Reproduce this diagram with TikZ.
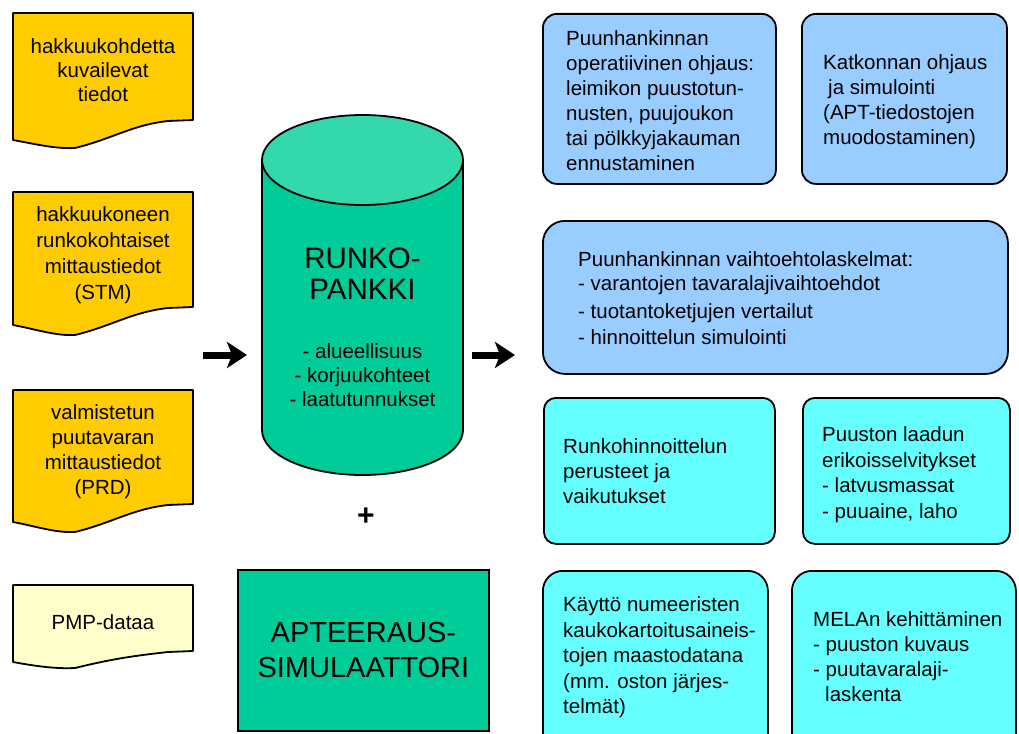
\documentclass[tikz,border=0pt]{standalone}
\usepackage{fontspec}
\setmainfont{Liberation Sans}
\usetikzlibrary{arrows.meta}

\definecolor{docyellow}{HTML}{FFCC00}
\definecolor{docpale}{HTML}{FFFFCC}
\definecolor{bankgreen}{HTML}{00CC99}
\definecolor{banktop}{HTML}{33D9AD}
\definecolor{taskblue}{HTML}{99CCFF}
\definecolor{taskcyan}{HTML}{66FFFF}

% torn-paper document outline: top y, right bottom y, left bottom y, lowest y, fill
\newcommand\docoutline[5]{%
  \draw[docline, fill=#5] (13,#1) -- (193,#1) -- (193,#2) -- (168,#2+1)
    .. controls (132,#2+5) and (112,#4-9) .. (75,#4)
    .. controls (55,#4+1) and (35,#3+4) .. (13,#3) -- cycle;}

\begin{document}
\begin{tikzpicture}[x=1pt,y=-1pt,
  docline/.style={draw=black, line width=1.8pt, line join=round},
  doctext/.style={align=center, anchor=north, inner sep=0pt},
  tasktext/.style={align=left, anchor=north west, inner sep=0pt},
  taskbox/.style={draw=black, line width=1.8pt, anchor=north west, inner sep=0pt},
  bigarrow/.style={line width=7pt, -{Stealth[length=20pt,width=26pt,inset=5pt]}},
  f20/.style={font=\fontsize{20.5}{25}\selectfont}]

\useasboundingbox (0,0) rectangle (1019,733);

% ---- input documents ----
\docoutline{13}{120}{140}{148}{docyellow}
\node[doctext, font=\fontsize{20.5}{24}\selectfont] (doc1) at (103,36.7)
  {\strut hakkuukohdetta\\kuvailevat\\tiedot};

\docoutline{192}{307}{325}{335}{docyellow}
\node[doctext, font=\fontsize{20.5}{26}\selectfont] (doc2) at (103,203.3)
  {\strut hakkuukoneen\\runkokohtaiset\\mittaustiedot\\(STM)};

\docoutline{390}{504}{522}{532}{docyellow}
\node[doctext, f20] (doc3) at (103,402)
  {\strut valmistetun\\puutavaran\\mittaustiedot\\(PRD)};

\docoutline{585}{651}{662}{668}{docpale}
\node[f20, inner sep=0pt] (doc4) at (103,622) {PMP-dataa};

% ---- stem database cylinder ----
\draw[line width=1.8pt, fill=bankgreen] (262,160) -- (262,430)
  arc[start angle=180, end angle=360, x radius=100.5pt, y radius=45pt]
  -- (463,160) -- cycle;
\draw[line width=1.8pt, fill=banktop] (362.5,160)
  ellipse[x radius=100.5pt, y radius=45pt];
\node[align=center, inner sep=0pt, font=\fontsize{29.5}{31}\selectfont] (bank)
  at (362.5,273.5) {RUNKO-\\PANKKI};
\node[doctext, font=\fontsize{20.5}{24}\selectfont] (banklist) at (362.5,341.7)
  {\strut - alueellisuus\\- korjuukohteet\\- laatutunnukset};

% ---- flow arrows ----
\coordinate (inA) at (203,355);
\coordinate (inB) at (247,355);
\coordinate (outA) at (472,355);
\coordinate (outB) at (515,355);
\draw[bigarrow] (inA) -- (inB);
\draw[bigarrow] (outA) -- (outB);

\node[inner sep=0pt, font=\fontsize{30}{30}\selectfont\bfseries] (plus) at (366,517) {+};

% ---- bucking simulator ----
\node[taskbox, fill=bankgreen, minimum width=251pt, minimum height=161pt] (sim)
  at (237,569) {};
\node[align=center, inner sep=0pt, font=\fontsize{29}{35}\selectfont] (simtext)
  at (sim.center) {APTEERAUS-\\SIMULAATTORI};

% ---- applications ----
\node[taskbox, fill=taskblue, rounded corners=14pt, minimum width=233pt, minimum height=170pt] (opA) at (542,13) {};
\node[tasktext, f20] (opAtext) at (566,28)
  {\strut Puunhankinnan\\operatiivinen ohjaus:\\leimikon puustotun-\\nusten, puujoukon\\tai pölkkyjakauman\\ennustaminen};

\node[taskbox, fill=taskblue, rounded corners=14pt, minimum width=205pt, minimum height=170pt] (opB) at (801,13) {};
\node[tasktext, f20] (opBtext) at (823,52)
  {\strut Katkonnan ohjaus\\\hspace*{5pt}ja simulointi\\(APT-tiedostojen\\muodostaminen)};

\node[taskbox, fill=taskblue, rounded corners=22pt, minimum width=465pt, minimum height=153pt] (opC) at (542,220) {};
\node[tasktext, f20] (opCtext) at (578,249)
  {\strut Puunhankinnan vaihtoehtolaskelmat:\\[-1pt]- varantojen tavaralajivaihtoehdot\\[3pt]- tuotantoketjujen vertailut\\[1pt]- hinnoittelun simulointi};

\node[taskbox, fill=taskcyan, rounded corners=12pt, minimum width=231pt, minimum height=146pt] (opD) at (543,397) {};
\node[tasktext, f20] (opDtext) at (563,436)
  {\strut Runkohinnoittelun\\perusteet ja\\vaikutukset};

\node[taskbox, fill=taskcyan, rounded corners=12pt, minimum width=207pt, minimum height=146pt] (opE) at (802,397) {};
\node[tasktext, f20] (opEtext) at (822,424)
  {\strut Puuston laadun\\[1pt]erikoisselvitykset\\- latvusmassat\\[1pt]- puuaine, laho};

\node[taskbox, fill=taskcyan, rounded corners=20pt, minimum width=225pt, minimum height=200pt] (opF) at (542,570) {};
\node[tasktext, f20] (opFtext) at (563,594)
  {\strut Käyttö numeeristen\\[0.5pt]kaukokartoitusaineis-\\[0.5pt]tojen maastodatana\\[0.5pt](mm. oston järjes-\\[0.5pt]telmät)};

\node[taskbox, fill=taskcyan, rounded corners=20pt, minimum width=224pt, minimum height=200pt] (opG) at (791,570) {};
\node[tasktext, f20] (opGtext) at (813,609)
  {\strut MELAn kehittäminen\\- puuston kuvaus\\- puutavaralaji-\\\hspace*{12pt}laskenta};

\end{tikzpicture}
\end{document}
